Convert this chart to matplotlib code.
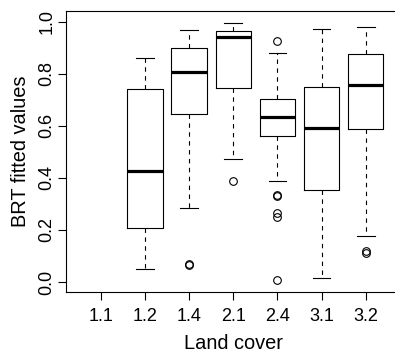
import matplotlib
matplotlib.use("Agg")
import matplotlib.pyplot as plt

categories = ["1.1", "1.2", "1.4", "2.1", "2.4", "3.1", "3.2"]
# per category: lower whisker, Q1, median, Q3, upper whisker (None = no data)
whislo = [None, 0.050, 0.284, 0.474, 0.388, 0.014, 0.177]
q1     = [None, 0.207, 0.644, 0.744, 0.562, 0.353, 0.589]
med    = [None, 0.428, 0.807, 0.942, 0.635, 0.590, 0.756]
q3     = [None, 0.741, 0.900, 0.963, 0.702, 0.750, 0.877]
whishi = [None, 0.859, 0.968, 0.996, 0.879, 0.973, 0.978]
fliers = [[], [], [0.068, 0.064], [0.388],
          [0.925, 0.334, 0.330, 0.264, 0.251, 0.008], [], [0.120, 0.113]]

plt.rcParams['font.family'] = ['Liberation Sans', 'DejaVu Sans']

fig = plt.figure(figsize=(3.95, 3.52), dpi=100)
ax = fig.add_axes([66.25 / 395, 59.7 / 352, (400.2 - 66.25) / 395, (292.3 - 11) / 352])

stats, positions = [], []
for i, c in enumerate(categories):
    if med[i] is None:
        continue
    stats.append(dict(whislo=whislo[i], q1=q1[i], med=med[i], q3=q3[i],
                      whishi=whishi[i], fliers=fliers[i], label=c))
    positions.append(i + 1)

ax.bxp(stats, positions=positions, widths=0.8, showfliers=True,
       boxprops=dict(color='black', linewidth=0.8),
       medianprops=dict(color='black', linewidth=2.3, solid_capstyle='butt'),
       whiskerprops=dict(color='black', linewidth=0.8, linestyle=(0, (4, 4))),
       capprops=dict(color='black', linewidth=0.8),
       capwidths=0.4,
       flierprops=dict(marker='o', markerfacecolor='none', markeredgecolor='black',
                       markersize=5.5, markeredgewidth=0.8, linestyle='none'))

ax.set_xlim(0.22, 7.78)
ax.set_ylim(-0.0396, 1.0411)
ax.set_xticks(range(1, len(categories) + 1))
ax.set_xticklabels(categories)
ax.set_yticks([0.0, 0.2, 0.4, 0.6, 0.8, 1.0])
ax.set_yticklabels(["0.0", "0.2", "0.4", "0.6", "0.8", "1.0"], rotation=90, va='center')
ax.tick_params(axis='both', direction='out', length=5.5, width=0.8, labelsize=13, color='black')
ax.tick_params(axis='x', pad=6)
ax.tick_params(axis='y', pad=2.5)
for s in ax.spines.values():
    s.set_linewidth(0.8)
    s.set_color('black')
ax.spines['right'].set_visible(False)

ax.set_xlabel("Land cover", fontsize=14.4, labelpad=6)
ax.set_ylabel("BRT fitted values", fontsize=14.4, labelpad=6.2)

fig.savefig("out.png", dpi=100)
